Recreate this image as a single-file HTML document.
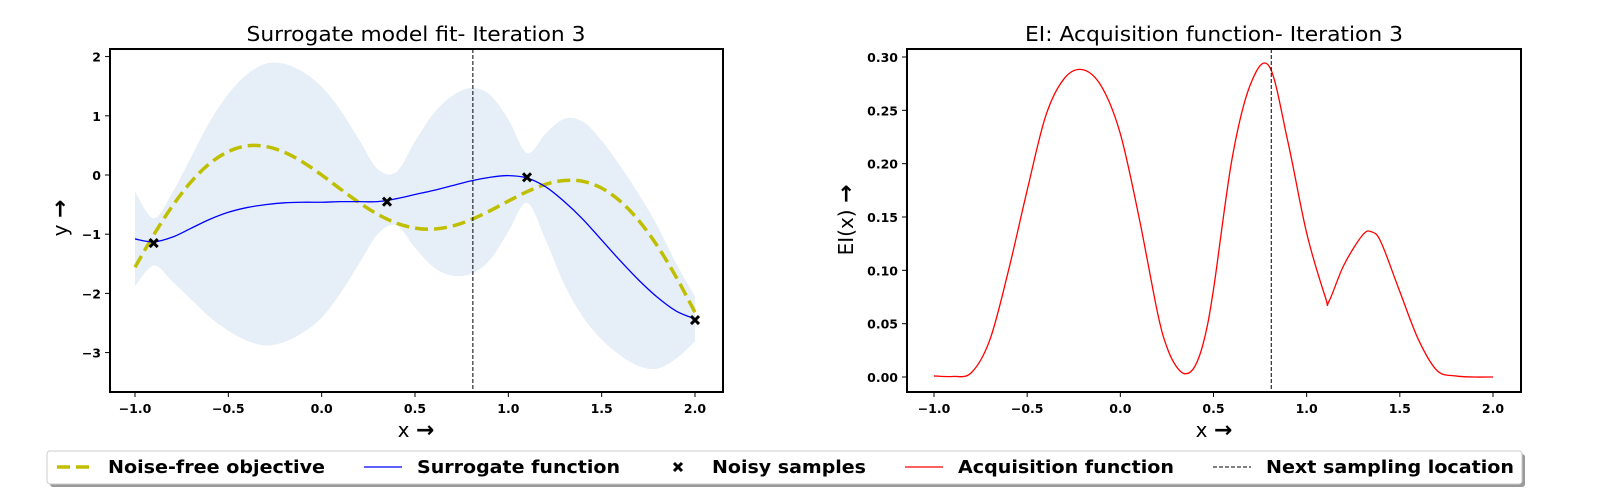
<!DOCTYPE html>
<html><head><meta charset="utf-8"><style>
body{margin:0;background:#fff;width:1600px;height:500px;overflow:hidden;font-family:"DejaVu Sans",sans-serif}
svg text{font-family:"DejaVu Sans","Liberation Sans",sans-serif}
</style></head><body>
<svg id="chart" width="1600" height="500" xmlns="http://www.w3.org/2000/svg"></svg>
<script>
const xs = [-1.0,-0.9,-0.8,-0.7,-0.6,-0.5,-0.4,-0.3,-0.2,-0.1,0,0.1,0.2,0.3,0.4,0.5,0.6,0.7,0.8,0.9,1.0,1.1,1.2,1.3,1.4,1.5,1.6,1.7,1.8,1.9,2.0];
const objective = [-1.559,-1.013,-0.525,-0.117,0.194,0.397,0.492,0.483,0.385,0.216,0,-0.236,-0.465,-0.663,-0.812,-0.897,-0.914,-0.863,-0.755,-0.607,-0.441,-0.282,-0.157,-0.092,-0.108,-0.222,-0.444,-0.774,-1.207,-1.729,-2.321];
const surrogate = [-1.08,-1.13,-1.05,-0.9,-0.75,-0.63,-0.55,-0.5,-0.47,-0.46,-0.46,-0.45,-0.45,-0.45,-0.4,-0.33,-0.26,-0.18,-0.1,-0.04,-0.01,-0.05,-0.2,-0.45,-0.75,-1.1,-1.45,-1.78,-2.07,-2.3,-2.43];
const stdev = [0.8,0.4,0.75,1.2,1.65,2.0,2.25,2.38,2.35,2.2,1.95,1.55,1.05,0.55,0.45,0.9,1.3,1.52,1.57,1.4,0.95,0.42,0.9,1.4,1.65,1.68,1.6,1.45,1.2,0.8,0.38];
const sampleX = [-0.9,0.35,1.1,2.0];
const sampleY = [-1.15,-0.45,-0.04,-2.45];
const eiX = [-1.0,-0.9,-0.8,-0.7,-0.6,-0.5,-0.4,-0.3,-0.2,-0.1,0,0.1,0.2,0.25,0.3,0.35,0.4,0.45,0.5,0.6,0.7,0.8,0.9,1.0,1.1,1.12,1.2,1.3,1.35,1.4,1.5,1.6,1.7,1.8,1.9,2.0];
const eiY = [0.001,0.0005,0.004,0.035,0.1,0.175,0.245,0.28,0.288,0.272,0.228,0.15,0.06,0.028,0.01,0.003,0.01,0.035,0.082,0.205,0.275,0.291,0.22,0.135,0.075,0.071,0.105,0.133,0.136,0.126,0.08,0.035,0.006,0.001,0,0];
const nextX = 0.81;
const leftXTicks = [-1.0,-0.5,0.0,0.5,1.0,1.5,2.0];
const leftYTicks = [2,1,0,-1,-2,-3];
const rightXTicks = [-1.0,-0.5,0.0,0.5,1.0,1.5,2.0];
const rightYTicks = [0.00,0.05,0.10,0.15,0.20,0.25,0.30];

const NS="http://www.w3.org/2000/svg";
const svg=document.getElementById('chart');
function mk(tag,attrs,parent){const e=document.createElementNS(NS,tag);for(const k in attrs)e.setAttribute(k,attrs[k]);(parent||svg).appendChild(e);return e;}
function smooth(pts){let d=`M${pts[0][0]},${pts[0][1]}`;for(let i=0;i<pts.length-1;i++){const p0=pts[Math.max(0,i-1)],p1=pts[i],p2=pts[i+1],p3=pts[Math.min(pts.length-1,i+2)];const c1=[p1[0]+(p2[0]-p0[0])/6,p1[1]+(p2[1]-p0[1])/6],c2=[p2[0]-(p3[0]-p1[0])/6,p2[1]-(p3[1]-p1[1])/6];d+=` C${c1[0]},${c1[1]} ${c2[0]},${c2[1]} ${p2[0]},${p2[1]}`;}return d;}
function smoothCont(pts){return smooth(pts).replace(/^M/,'L');}

const LX=x=>135+(x+1)*186.67, LY=y=>175-y*59.2;
const L={x:110,y:49,w:613,h:343};
const band=xs.map((x,i)=>[LX(x),LY(surrogate[i]+stdev[i])]);
const bandLow=xs.map((x,i)=>[LX(x),LY(surrogate[i]-stdev[i])]).reverse();
let bd=smooth(band)+' '+smoothCont(bandLow)+' Z';
let e=mk('path',{d:bd,fill:'#e6eff7'});


e=mk('path',{d:smooth(xs.map((x,i)=>[LX(x),LY(objective[i])])),fill:'none',stroke:'#bfbf00','stroke-width':3.5,'stroke-dasharray':'13,6'});


e=mk('path',{d:smooth(xs.map((x,i)=>[LX(x),LY(surrogate[i])])),fill:'none',stroke:'#0000ff','stroke-width':1.3});


e=mk('line',{x1:LX(nextX),x2:LX(nextX),y1:L.y,y2:L.y+L.h,stroke:'#000','stroke-width':1,'stroke-dasharray':'4,2'});


sampleX.forEach((x,i)=>{const cx=LX(x),cy=LY(sampleY[i]);const m=mk('path',{d:`M${cx-4},${cy-4}L${cx+4},${cy+4}M${cx+4},${cy-4}L${cx-4},${cy+4}`,stroke:'#000','stroke-width':3});

});

function axes(A,xt,yt,fx,fy,xfmt,yfmt,name){
  const r=mk('rect',{x:A.x,y:A.y,width:A.w,height:A.h,fill:'none',stroke:'#000','stroke-width':2});
  
  
  xt.forEach(v=>{const px=fx(v);mk('line',{x1:px,x2:px,y1:A.y+A.h,y2:A.y+A.h+5,stroke:'#000'});const t=mk('text',{x:px,y:A.y+A.h+21,'text-anchor':'middle','font-size':12.5,'font-weight':'bold'});t.textContent=xfmt(v);
  
  });
  yt.forEach(v=>{const py=fy(v);mk('line',{x1:A.x-5,x2:A.x,y1:py,y2:py,stroke:'#000'});const t=mk('text',{x:A.x-9,y:py+5,'text-anchor':'end','font-size':12.5,'font-weight':'bold'});t.textContent=yfmt(v);
  
  });
}
axes(L,leftXTicks,leftYTicks,LX,LY,v=>(v<0?'\u2212':'')+Math.abs(v).toFixed(1),v=>(v<0?'\u2212':'')+Math.abs(v),'left-axes');

const RX=x=>934+(x+1)*186.33, RY=y=>377-y*1066.7;
const R={x:907,y:49,w:614,h:343};
e=mk('path',{d:smooth(eiX.map((x,i)=>[RX(x),RY(eiY[i])])),fill:'none',stroke:'#ff0000','stroke-width':1.3});


e=mk('line',{x1:RX(nextX),x2:RX(nextX),y1:R.y,y2:R.y+R.h,stroke:'#000','stroke-width':1,'stroke-dasharray':'4,2'});


axes(R,rightXTicks,rightYTicks,RX,RY,v=>(v<0?'\u2212':'')+Math.abs(v).toFixed(1),v=>v.toFixed(2),'right-axes');

function txt(s,x,y,size,name,rot,len){const t=mk('text',{x:x,y:y,'font-size':size,'text-anchor':'middle'});if(rot)t.setAttribute('transform',`rotate(-90 ${x} ${y})`);if(len){t.setAttribute('textLength',len);t.setAttribute('lengthAdjust','spacingAndGlyphs');}t.innerHTML=s;

}
txt('Surrogate model fit- Iteration 3',416,41,20,'left-title',false,339);
txt('EI: Acquisition function- Iteration 3',1214,41,20,'right-title',false,378);
txt('x <tspan font-weight="bold" font-size="22">\u2192</tspan>',416,437,20,'left-x-axis-title');
txt('x <tspan font-weight="bold" font-size="22">\u2192</tspan>',1214,437,20,'right-x-axis-title');
txt('y <tspan font-weight="bold" font-size="22">\u2192</tspan>',67,218,20,'left-y-axis-title',true);
txt('EI(x) <tspan font-weight="bold" font-size="22">\u2192</tspan>',853,220,20,'right-y-axis-title',true);

e=mk('rect',{x:50,y:454,width:1475,height:33,fill:'#999',rx:3});


e=mk('rect',{x:47,y:451,width:1475,height:33,fill:'#fff',stroke:'#ccc',rx:3});


const lg=[[57,108,'Noise-free objective','obj',217],[364,417,'Surrogate function','sur',203],[673,712,'Noisy samples','pts',154],[905,958,'Acquisition function','ei',216],[1213,1266,'Next sampling location','next',248]];
lg.forEach(([x,tx,label,k,len])=>{const y=467;
 if(k==='obj')mk('line',{x1:x,x2:x+38,y1:y,y2:y,stroke:'#bfbf00','stroke-width':3.5,'stroke-dasharray':'13,6'});
 if(k==='sur')mk('line',{x1:x,x2:x+38,y1:y,y2:y,stroke:'#0000ff','stroke-width':1.3});
 if(k==='ei')mk('line',{x1:x,x2:x+38,y1:y,y2:y,stroke:'#ff0000','stroke-width':1.3});
 if(k==='next')mk('line',{x1:x,x2:x+38,y1:y,y2:y,stroke:'#000','stroke-width':1,'stroke-dasharray':'4,2'});
 if(k==='pts')mk('path',{d:`M${x+1},${y-4}L${x+9},${y+4}M${x+9},${y-4}L${x+1},${y+4}`,stroke:'#000','stroke-width':3});
 const t=mk('text',{x:tx,y:y+6,'font-size':17.5,'font-weight':'bold',textLength:len,lengthAdjust:'spacingAndGlyphs'});t.textContent=label;
 
 
});
</script>
</body></html>
